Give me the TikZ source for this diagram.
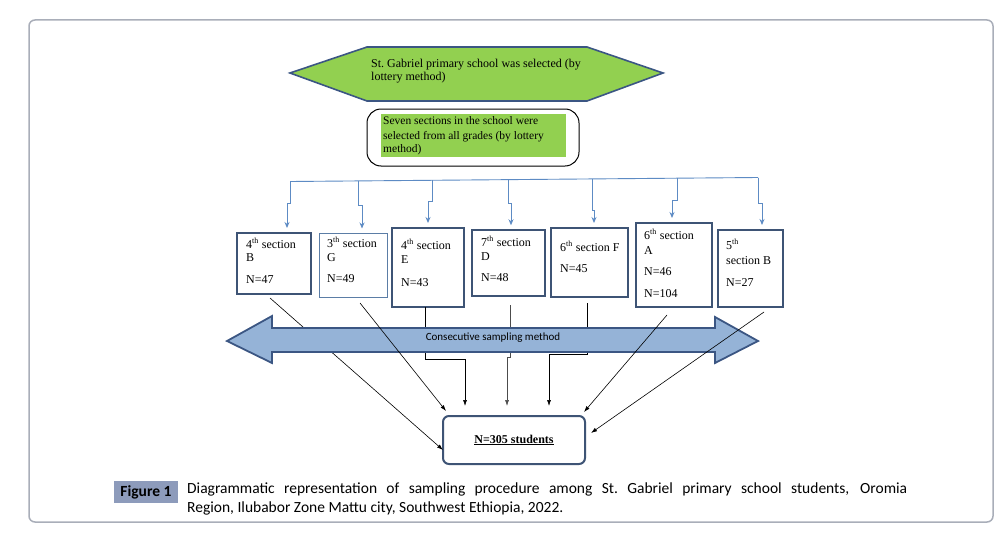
\documentclass[tikz,border=0pt]{standalone}
\usepackage{fontspec}
\setmainfont{Liberation Serif}
\newfontfamily\calfont{Carlito}
\usetikzlibrary{arrows.meta}
\definecolor{hexgreen}{HTML}{92D050}
\definecolor{hexedge}{HTML}{3B5683}
\definecolor{boxedge}{HTML}{3E5475}
\definecolor{thinedge}{HTML}{5B7DA6}
\definecolor{busblue}{HTML}{5D8BC4}
\definecolor{arrowfill}{HTML}{95B3D7}
\definecolor{framegray}{HTML}{A9AEB9}
\definecolor{figlabel}{HTML}{8D9BBB}
\tikzset{
 secbox/.style={draw=boxedge, line width=2pt, inner sep=0},
 sectxt/.style={anchor=base west, inner sep=0, font=\fontsize{12}{14}\selectfont},
 toptxt/.style={anchor=base west, inner sep=0, font=\fontsize{12}{14}\selectfont},
 greentxt/.style={anchor=base west, inner sep=0, font=\fontsize{11.5}{13}\selectfont},
 busline/.style={draw=busblue, line width=0.9pt},
 droparrow/.style={busline, -{Stealth[length=6pt,width=5pt]}, shorten >=4pt},
 sampline/.style={draw=black, line width=0.6pt, -{Latex[length=6pt,width=4pt]}},
}
\begin{document}
\begin{tikzpicture}[x=1pt,y=-1pt]
\useasboundingbox (0,0) rectangle (1008,551);
\fill[white] (0,0) rectangle (1008,551);
% frame
\draw[framegray, line width=1.5pt, rounded corners=6pt] (29,20) rectangle (993,522);

% hexagon
\draw[fill=hexgreen, draw=hexedge, line width=1.6pt] (290,73) -- (367,47) -- (587,47) -- (663,73) -- (587,101) -- (367,101) -- cycle;
\node[toptxt] (school1) at (371,67) {St.\ Gabriel primary school was selected (by};
\node[toptxt] (school2) at (371,81) {lottery method)};

% rounded box with green fill
\node[draw=black, line width=1pt, rounded corners=14pt, minimum width=212, minimum height=57, inner sep=0] (sections) at (473,137.5) {};
\node[fill=hexgreen, minimum width=185, minimum height=43, inner sep=0] (secfill) at (473.5,135.5) {};
\node[greentxt] (sec1) at (383,124.5) {Seven sections in the school were};
\node[greentxt] (sec2) at (383,139) {selected from all grades (by lottery};
\node[greentxt] (sec3) at (383,152.5) {method)};

% section boxes
\node[secbox, minimum width=74, minimum height=61] (b1) at (274,263.5) {};
\node[draw=thinedge, line width=1pt, inner sep=0, minimum width=68, minimum height=64] (b2) at (353,265) {};
\node[secbox, minimum width=72, minimum height=79] (b3) at (428,267.5) {};
\node[secbox, line width=1.5pt, minimum width=73, minimum height=66] (b4) at (508.5,263) {};
\node[secbox, minimum width=77, minimum height=69] (b5) at (589.5,262.5) {};
\node[secbox, minimum width=76, minimum height=84] (b6) at (674,265) {};
\node[secbox, minimum width=65, minimum height=77] (b7) at (750.5,268.5) {};

\node[sectxt] (t1a) at (246,248) {4\textsuperscript{th} section};
\node[sectxt] (t1b) at (246,261.5) {B};
\node[sectxt] (t1c) at (246,283) {N=47};
\node[sectxt] (t2a) at (327,247) {3\textsuperscript{th} section};
\node[sectxt] (t2b) at (327,261) {G};
\node[sectxt] (t2c) at (327,282) {N=49};
\node[sectxt] (t3a) at (401,249) {4\textsuperscript{th} section};
\node[sectxt] (t3b) at (401,263) {E};
\node[sectxt] (t3c) at (401,286) {N=43};
\node[sectxt] (t4a) at (481,246) {7\textsuperscript{th} section};
\node[sectxt] (t4b) at (481,260) {D};
\node[sectxt] (t4c) at (481,281) {N=48};
\node[sectxt] (t5a) at (560,251) {6\textsuperscript{th} section F};
\node[sectxt] (t5b) at (560,272) {N=45};
\node[sectxt] (t6a) at (644,239) {6\textsuperscript{th} section};
\node[sectxt] (t6b) at (644,254) {A};
\node[sectxt] (t6c) at (644,275) {N=46};
\node[sectxt] (t6d) at (644,297) {N=104};
\node[sectxt] (t7a) at (726,249) {5\textsuperscript{th}};
\node[sectxt] (t7b) at (726,264) {section B};
\node[sectxt] (t7c) at (726,286) {N=27};

% bus line and drops
\coordinate (busL) at (290,181.5);
\coordinate (busR) at (758,177.5);
\draw[busline] (busL) -- (busR);
\coordinate (d1t) at (290,181.5); \coordinate (d1j) at (287,203);
\coordinate (d2t) at (358,180.9); \coordinate (d2j) at (362,205);
\coordinate (d3t) at (432,180.3); \coordinate (d3j) at (428,201);
\coordinate (d4t) at (508,179.6); \coordinate (d4j) at (511,203);
\coordinate (d5t) at (592,178.9); \coordinate (d5j) at (594,210);
\coordinate (d6t) at (677,178.2); \coordinate (d6j) at (672,200);
\coordinate (d7t) at (758,177.5); \coordinate (d7j) at (762,203);
\draw[droparrow] (d1t) |- (d1j) -- (d1j |- b1.north);
\draw[droparrow] (d2t) |- (d2j) -- (d2j |- b2.north);
\draw[droparrow] (d3t) |- (d3j) -- (d3j |- b3.north);
\draw[droparrow] (d4t) |- (d4j) -- (d4j |- b4.north);
\draw[droparrow] (d5t) |- (d5j) -- (d5j |- b5.north);
\draw[droparrow] (d6t) |- (d6j) -- (d6j |- b6.north);
\draw[droparrow] (d7t) |- (d7j) -- (d7j |- b7.north);

% total box
\node[draw=boxedge, line width=2pt, rounded corners=6pt, minimum width=142, minimum height=48, inner sep=0] (total) at (514,440) {\fontsize{12}{14}\selectfont\bfseries\underline{N=305 students}};

% sampling connectors (below the arrow)
\coordinate (s1) at (270,298); \coordinate (e1) at (443,450);
\coordinate (s3) at (425,307); \coordinate (m3) at (465,359); \coordinate (e3) at (465,406);
\coordinate (s4) at (510,305); \coordinate (m4) at (507,357); \coordinate (e4) at (507,406);
\coordinate (s5) at (587,303); \coordinate (m5) at (549,354); \coordinate (e5) at (549,406);
\draw[sampline] (s1) -- (e1);
\draw[sampline] (s3) |- (m3) -- (e3);
\draw[sampline, draw=black!70] (s4) |- (m4) -- (e4);
\draw[sampline] (s5) |- (m5) -- (e5);

% double arrow
\draw[fill=arrowfill, draw=hexedge, line width=1.8pt, line join=miter]
 (227,341) -- (272,316) -- (272,328) -- (715,328) -- (715,317) -- (758,341) -- (715,363) -- (715,352) -- (272,352) -- (272,363) -- cycle;
\node[inner sep=0, font=\calfont\fontsize{11}{13}\selectfont] (sampling) at (493,337.5) {Consecutive sampling method};

% sampling connectors (above the arrow)
\coordinate (s2) at (360,303); \coordinate (e2) at (446,411);
\coordinate (s6) at (667,315); \coordinate (e6) at (584,412);
\coordinate (s7) at (764,312); \coordinate (e7) at (591,433);
\draw[sampline] (s2) -- (e2);
\draw[sampline] (s6) -- (e6);
\draw[sampline] (s7) -- (e7);

% caption
\node[fill=figlabel, minimum width=64, minimum height=22, inner sep=0, font=\calfont\bfseries\fontsize{15.5}{17}\selectfont] (figlab) at (146,492) {Figure 1};
\node[anchor=north west, text width=720pt, align=justify, inner sep=0, font=\calfont\fontsize{15.5}{18.5}\selectfont] (caption) at (187,483)
 {Diagrammatic representation of sampling procedure among St.\ Gabriel primary school students, Oromia\linebreak Region, Ilubabor Zone Mattu city, Southwest Ethiopia, 2022.};
\end{tikzpicture}
\end{document}
